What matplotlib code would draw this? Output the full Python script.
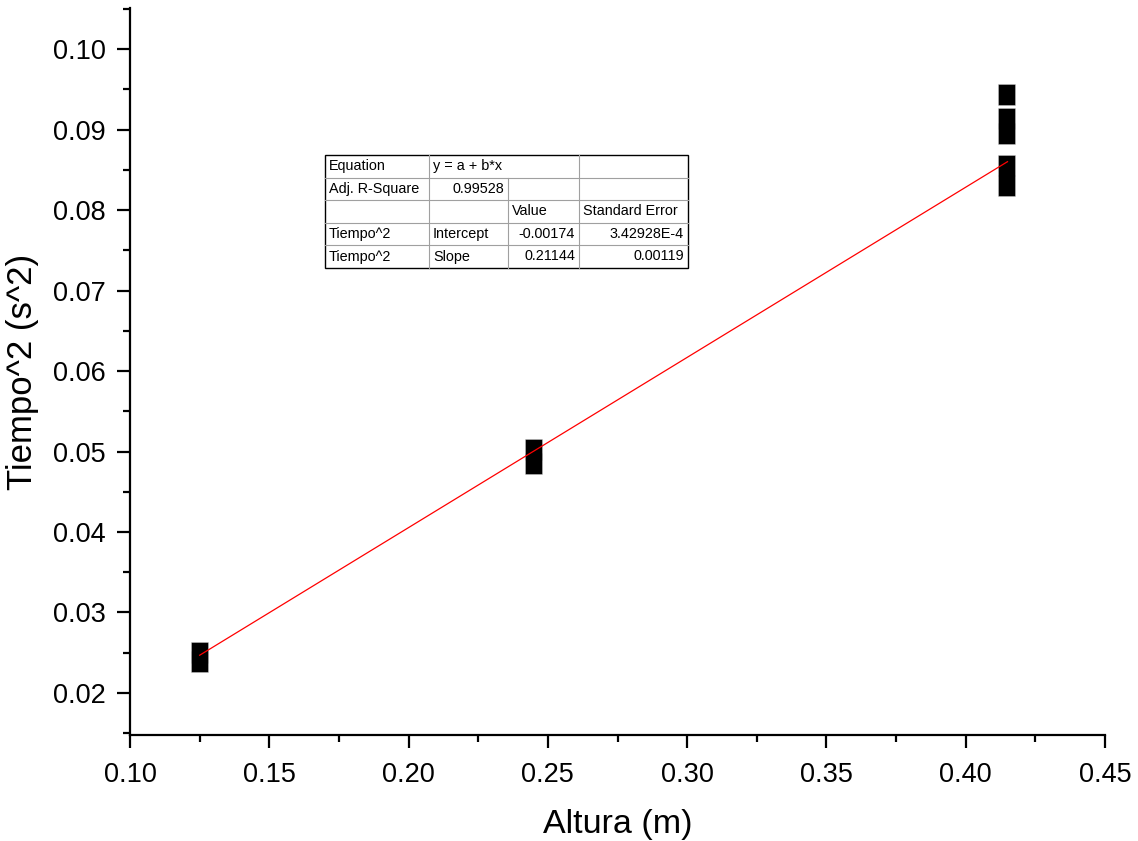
import numpy as np
import matplotlib.pyplot as plt
from matplotlib.path import Path
from matplotlib.ticker import MultipleLocator

plt.rcParams['font.family'] = ['Liberation Sans', 'DejaVu Sans']

# Datos medidos
altura = [0.125, 0.125, 0.245, 0.245, 0.415, 0.415, 0.415, 0.415, 0.415]
tiempo2 = [0.0250, 0.0239, 0.0502, 0.0484, 0.0943, 0.0913, 0.0894, 0.0855, 0.0830]

# Ajuste lineal (valores de la tabla)
intercepto = -0.00174
pendiente = 0.21144

tabla = [
    ["Equation", "y = a + b*x", "", ""],
    ["Adj. R-Square", "0.99528", "", ""],
    ["", "", "Value", "Standard Error"],
    ["Tiempo^2", "Intercept", "-0.00174", "3.42928E-4"],
    ["Tiempo^2", "Slope", "0.21144", "0.00119"],
]

W, H = 1138, 841
fig = plt.figure(figsize=(W / 100, H / 100), dpi=100)
ax = fig.add_axes([130 / W, 1 - 735 / H, (1105 - 130) / W, (735 - 8) / H])

# Marcador rectangular: primero el borde, luego el relleno encima
rect = Path([(-0.4, -0.5), (0.4, -0.5), (0.4, 0.5), (-0.4, 0.5), (-0.4, -0.5)],
            [Path.MOVETO, Path.LINETO, Path.LINETO, Path.LINETO, Path.CLOSEPOLY])
ax.plot(altura, tiempo2, linestyle='none', marker=rect, markersize=14.5,
        markerfacecolor='black', markeredgecolor='#909090', markeredgewidth=1.2, zorder=3)
ax.plot(altura, tiempo2, linestyle='none', marker=rect, markersize=14.5,
        markerfacecolor='black', markeredgewidth=0, zorder=3.5)

xs = np.array([min(altura), max(altura)])
ax.plot(xs, intercepto + pendiente * xs, color='red', lw=0.9, zorder=4)

ax.set_xlim(0.10, 0.45)
ax.set_ylim(0.01478, 0.1051)
ax.xaxis.set_major_locator(MultipleLocator(0.05))
ax.xaxis.set_minor_locator(MultipleLocator(0.025))
ax.yaxis.set_major_locator(MultipleLocator(0.01))
ax.yaxis.set_minor_locator(MultipleLocator(0.005))
ax.xaxis.set_major_formatter(lambda v, p: f"{v:.2f}")
ax.yaxis.set_major_formatter(lambda v, p: f"{v:.2f}")

for s in ['top', 'right']:
    ax.spines[s].set_visible(False)
for s in ['left', 'bottom']:
    ax.spines[s].set_linewidth(1.6)
ax.tick_params(which='major', direction='out', length=9.5, width=1.6, labelsize=19.5, pad=8)
ax.tick_params(axis='x', which='major', pad=10)
ax.tick_params(which='minor', direction='out', length=5, width=1.6)

ax.set_xlabel('Altura (m)', fontsize=24.5, labelpad=15)
ax.set_ylabel('Tiempo^2 (s^2)', fontsize=25, labelpad=10)

# Tabla de resultados del ajuste
cols = [325, 429, 508, 579, 688]
rows = [155, 177.5, 200, 222.5, 245, 268]

def fx(px):
    return px / W

def fy(py):
    return 1 - py / H

gris = '#a0a0a0'
for r in rows[1:-1]:
    fig.add_artist(plt.Line2D([fx(cols[0]), fx(cols[-1])], [fy(r), fy(r)], color=gris, lw=0.8))
for i, c in enumerate(cols[1:-1], start=1):
    y0 = rows[0]
    if i == 2:
        y0 = rows[1]  # celda combinada en la primera fila
    fig.add_artist(plt.Line2D([fx(c), fx(c)], [fy(y0), fy(rows[-1])], color=gris, lw=0.8))
fig.add_artist(plt.Rectangle((fx(cols[0]), fy(rows[-1])), fx(cols[-1]) - fx(cols[0]),
                             fy(rows[0]) - fy(rows[-1]), fill=False, edgecolor='black',
                             lw=1.0, transform=fig.transFigure))

for i, fila in enumerate(tabla):
    yc = fy((rows[i] + rows[i + 1]) / 2)
    for j, txt in enumerate(fila):
        if not txt:
            continue
        numerico = txt[0].isdigit() or txt[0] == '-'
        if numerico and not txt.startswith('y'):
            fig.text(fx(cols[j + 1] - 4), yc, txt, ha='right', va='center', fontsize=10.4)
        else:
            fig.text(fx(cols[j] + 4), yc, txt, ha='left', va='center', fontsize=10.4)

fig.savefig('out.png', dpi=100)
